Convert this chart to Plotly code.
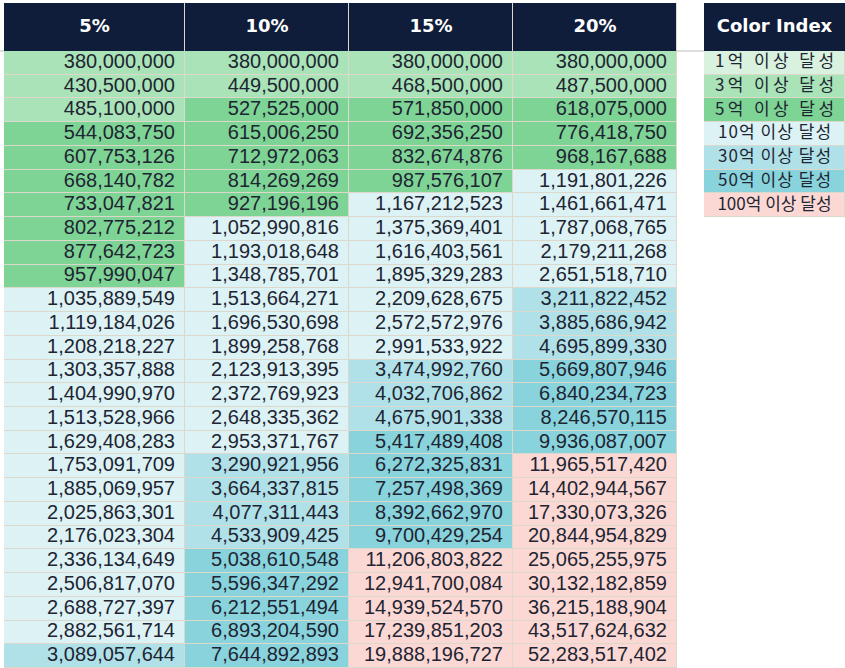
import plotly.graph_objects as go

W, H = 845, 668

headers = ["5%", "10%", "15%", "20%"]

rate_5 = [380000000, 430500000, 485100000, 544083750, 607753126, 668140782,
          733047821, 802775212, 877642723, 957990047, 1035889549, 1119184026,
          1208218227, 1303357888, 1404990970, 1513528966, 1629408283, 1753091709,
          1885069957, 2025863301, 2176023304, 2336134649, 2506817070, 2688727397,
          2882561714, 3089057644]
rate_10 = [380000000, 449500000, 527525000, 615006250, 712972063, 814269269,
           927196196, 1052990816, 1193018648, 1348785701, 1513664271, 1696530698,
           1899258768, 2123913395, 2372769923, 2648335362, 2953371767, 3290921956,
           3664337815, 4077311443, 4533909425, 5038610548, 5596347292, 6212551494,
           6893204590, 7644892893]
rate_15 = [380000000, 468500000, 571850000, 692356250, 832674876, 987576107,
           1167212523, 1375369401, 1616403561, 1895329283, 2209628675, 2572572976,
           2991533922, 3474992760, 4032706862, 4675901338, 5417489408, 6272325831,
           7257498369, 8392662970, 9700429254, 11206803822, 12941700084, 14939524570,
           17239851203, 19888196727]
rate_20 = [380000000, 487500000, 618075000, 776418750, 968167688, 1191801226,
           1461661471, 1787068765, 2179211268, 2651518710, 3211822452, 3885686942,
           4695899330, 5669807946, 6840234723, 8246570115, 9936087007, 11965517420,
           14402944567, 17330073326, 20844954829, 25065255975, 30132182859, 36215188904,
           43517624632, 52283517402]

index_title = "Color Index"
index_labels = ["1억 이상 달성", "3억 이상 달성", "5억 이상 달성", "10억 이상 달성",
                "30억 이상 달성", "50억 이상 달성", "100억 이상 달성"]
index_thresholds = [1e8, 3e8, 5e8, 1e9, 3e9, 5e9, 1e10]
index_colors = ["#d9f2df", "#a9e3b7", "#7ed495", "#dcf2f5", "#b1e1e8", "#89d3dd", "#fbd8d4"]

navy = "#0f1d3a"
text_col = "#1e2532"
grid_col = "#ddd8cc"
num_font = "Liberation Sans, Arial, sans-serif"
head_font = "DejaVu Sans, sans-serif"
kr_font = "Noto Sans CJK KR, sans-serif"

# pixel geometry
col_w = [181, 164, 164, 164]
tbl_left, idx_left, idx_right = 4, 704, 845
head_top, head_bot = 3, 51


def color_class(v):
    k = -1
    for i, t in enumerate(index_thresholds):
        if v >= t:
            k = i
    return k


def spread(s):
    # Excel "distributed" alignment: shorter labels get wider glyph gaps
    gap = "\u2009" if len(s) <= 8 else ("\u200a" if len(s) == 9 else "")
    return gap.join(s)


columns = [rate_5, rate_10, rate_15, rate_20]
n_rows = len(rate_5)
n_cls = len(index_colors)  # navy header gets class n_cls
row_h = (H - head_bot) / n_rows

palette = index_colors + [navy]
cscale = [[k / n_cls, c] for k, c in enumerate(palette)]

x_edges = [0]
for w in col_w:
    x_edges.append(x_edges[-1] + w)
x_mid = [(x_edges[i] + x_edges[i + 1]) / 2 for i in range(len(col_w))]

z_body = [[color_class(col[r]) for col in columns] for r in range(n_rows)]

fig = go.Figure()

# ---- main table body
fig.add_trace(go.Heatmap(
    z=z_body, x=x_edges, y=list(range(n_rows + 1)),
    colorscale=cscale, zmin=0, zmax=n_cls, showscale=False,
    xgap=1, ygap=1, hoverinfo="skip", xaxis="x", yaxis="y"))
for ci, col in enumerate(columns):
    fig.add_trace(go.Scatter(
        x=[x_edges[ci + 1] - 10] * n_rows, y=[r + 0.5 for r in range(n_rows)],
        mode="text", text=[f"{v:,}" for v in col], textposition="middle left",
        textfont=dict(family=num_font, size=20, color=text_col),
        hoverinfo="skip", showlegend=False, xaxis="x", yaxis="y"))

# ---- main table header
fig.add_trace(go.Heatmap(
    z=[[n_cls] * len(headers)], x=x_edges, y=[0, 1],
    colorscale=cscale, zmin=0, zmax=n_cls, showscale=False,
    xgap=1, ygap=0, hoverinfo="skip", xaxis="x", yaxis="y2"))
fig.add_trace(go.Scatter(
    x=x_mid, y=[0.5] * len(headers), mode="text",
    text=[f"<b>{h}</b>" for h in headers], textposition="middle center",
    textfont=dict(family=head_font, size=18, color="white"),
    hoverinfo="skip", showlegend=False, xaxis="x", yaxis="y2"))

# ---- color index column
n_idx = len(index_labels)
fig.add_trace(go.Heatmap(
    z=[[k] for k in range(n_idx)], x=[0, 1], y=list(range(n_idx + 1)),
    colorscale=cscale, zmin=0, zmax=n_cls, showscale=False,
    xgap=1, ygap=1, hoverinfo="skip", xaxis="x2", yaxis="y3"))
fig.add_trace(go.Scatter(
    x=[0.5] * n_idx, y=[k + 0.5 for k in range(n_idx)], mode="text",
    text=[spread(s) for s in index_labels], textposition="middle center",
    textfont=dict(family=kr_font, size=17, color=text_col),
    hoverinfo="skip", showlegend=False, xaxis="x2", yaxis="y3"))
fig.add_trace(go.Heatmap(
    z=[[n_cls]], x=[0, 1], y=[0, 1],
    colorscale=cscale, zmin=0, zmax=n_cls, showscale=False,
    hoverinfo="skip", xaxis="x2", yaxis="y4"))
fig.add_trace(go.Scatter(
    x=[0.5], y=[0.5], mode="text", text=[f"<b>{index_title}</b>"],
    textposition="middle center",
    textfont=dict(family=head_font, size=18, color="white"),
    hoverinfo="skip", showlegend=False, xaxis="x2", yaxis="y4"))

# thin rule under the header band
fig.add_shape(type="line", xref="paper", yref="paper", x0=0, x1=1,
              y0=1 - head_bot / H, y1=1 - head_bot / H,
              line=dict(color="#bdbdbd", width=1), layer="below")

ax = dict(visible=False, fixedrange=True)
body_top = 1 - head_bot / H
idx_bot = 1 - (head_bot + n_idx * row_h) / H
fig.update_layout(
    width=W, height=H,
    margin=dict(l=0, r=0, t=0, b=0),
    paper_bgcolor="white",
    plot_bgcolor=grid_col,
    showlegend=False,
    xaxis=dict(ax, domain=[tbl_left / W, (tbl_left + x_edges[-1]) / W],
               range=[0, x_edges[-1]]),
    yaxis=dict(ax, domain=[0, body_top], range=[n_rows, 0]),
    yaxis2=dict(ax, domain=[body_top, 1 - head_top / H], range=[1, 0]),
    xaxis2=dict(ax, domain=[idx_left / W, idx_right / W], range=[0, 1]),
    yaxis3=dict(ax, domain=[idx_bot, body_top], range=[n_idx, 0]),
    yaxis4=dict(ax, domain=[body_top, 1 - head_top / H], range=[1, 0]),
)

fig.write_html("out.html", config={"displayModeBar": False},
               post_script="document.body.style.margin='0';")
